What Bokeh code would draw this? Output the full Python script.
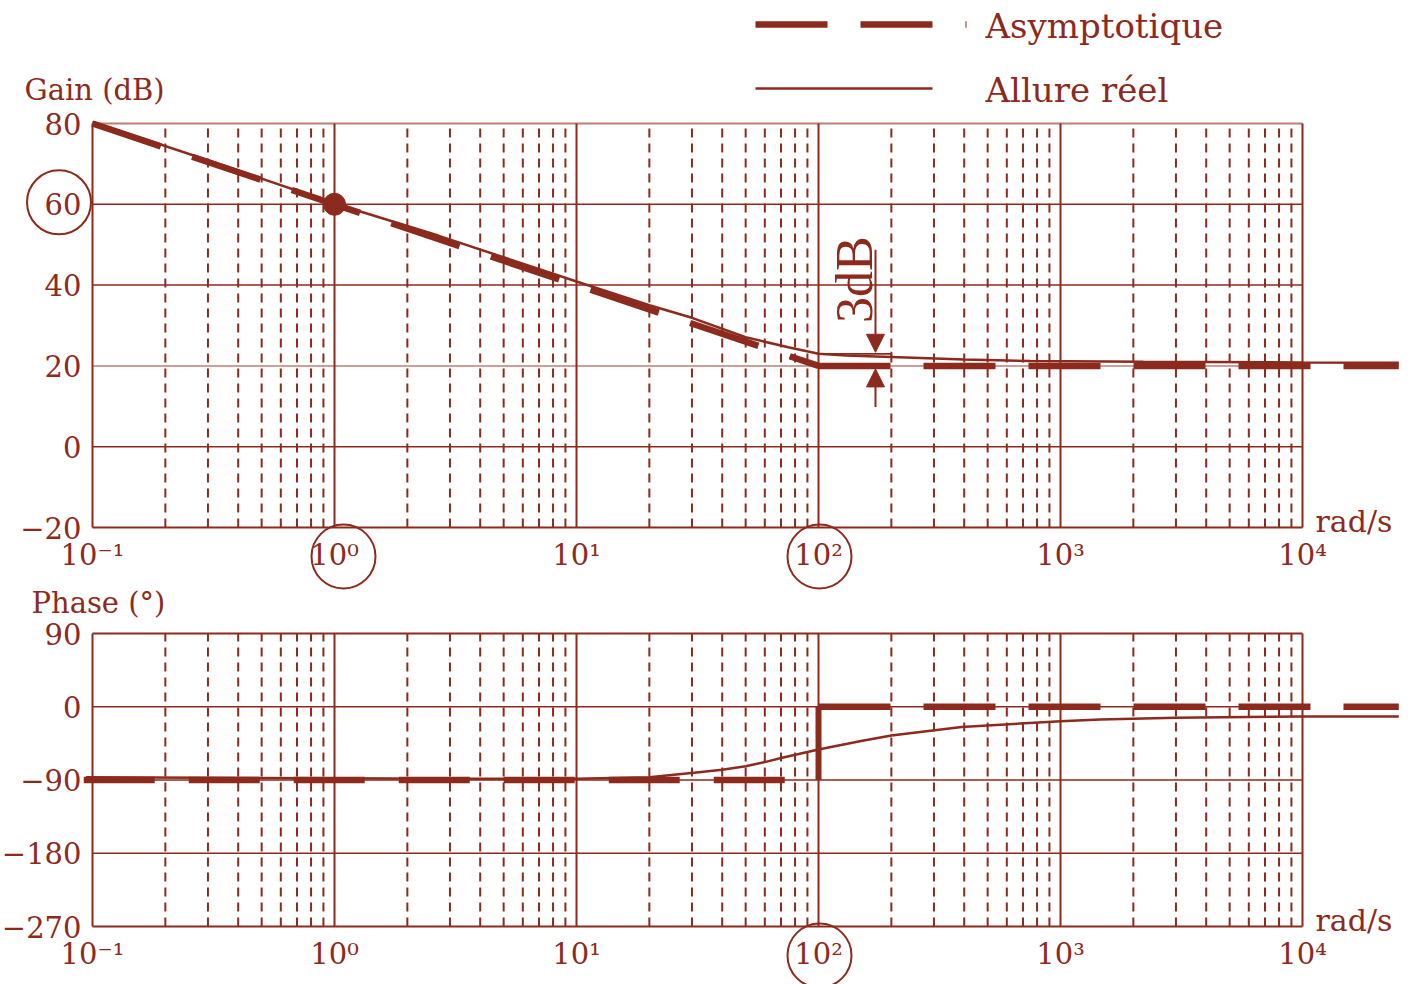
import numpy as np
from bokeh.plotting import figure
from bokeh.models import Range1d, Arrow, NormalHead
from bokeh.core.properties import value
from bokeh.embed import file_html
from bokeh.resources import INLINE

# ------------------------------------------------------------------ data
decades = [0.1, 1, 10, 100, 1000, 10000]
decade_labels = ["10⁻¹", "10⁰", "10¹", "10²", "10³", "10⁴"]
minor_mult = [2, 3, 4, 5, 6, 7, 8, 9]

gain_ticks = [-20, 0, 20, 40, 60, 80]
gain_tick_labels = ["−20", "0", "20", "40", "60", "80"]
phase_ticks = [-270, -180, -90, 0, 90]
phase_tick_labels = ["−270", "−180", "−90", "0", "90"]

asym_gain_w = [0.1, 100, 25000]
asym_gain_db = [80, 20, 20]
real_gain_w = [0.1, 0.3, 1, 2.7, 10, 20, 30, 50, 75, 100, 130, 200, 400, 750, 2200, 10000, 25000]
real_gain_db = [80.4, 70.9, 60.2, 52.2, 40.9, 35.0, 31.9, 27.1, 24.6, 23.0, 22.6, 22.2, 21.6, 21.2, 21.0, 20.85, 20.8]

asym_phase_w = [0.092, 100, 100, 25000]
asym_phase_deg = [-90, -90, 0, 0]
real_phase_w = [0.094, 0.3, 1, 3, 10, 20, 32, 40, 50, 60, 70, 100, 150, 200, 390, 1000, 1460, 3000, 10000, 25000]
real_phase_deg = [-86.5, -87.2, -88, -88.5, -88.5, -86.5, -80.4, -77.5, -73, -68, -63, -52.5, -42, -35.3, -25, -17.7, -15.6, -13.5, -12, -12]

marked_w, marked_db = 1, 60          # point (1 rad/s ; 60 dB)
break_w = 100                        # corner frequency
real_at_break_db = 23
asym_at_break_db = 20
arrow_w = 172                        # where the 3 dB arrows are drawn
ext_end_w = 200
circled_gain_ticks = [60]
circled_decades_gain = [1, 100]
circled_decades_phase = [100]
legend_labels = ["Asymptotique", "Allure réel"]

# ------------------------------------------------------------------ layout
C = "#8C2A1E"
FONT = value("DejaVu Serif")
PPD = 242.0                 # pixels per decade
W, H = 1413, 984
G_PPU = 404 / 100.0         # px per dB
P_PPU = 293 / 360.0         # px per degree
PH = "phase"


def ref_x(px):              # page pixel -> frequency
    return 10 ** (-1 + (px - 92) / PPD)


def ref_g(py):              # page pixel -> dB
    return 80 - (py - 123) / G_PPU


def ref_p(py):              # page pixel -> degrees
    return 90 - (py - 633) / P_PPU


def xs(w, dpx):
    return w * 10 ** (dpx / PPD)


p = figure(width=W, height=H, x_axis_type="log",
           x_range=Range1d(ref_x(0), ref_x(W)), y_range=Range1d(ref_g(H), ref_g(0)),
           x_axis_location=None, y_axis_location=None,
           toolbar_location=None, output_backend="svg", min_border=0)
p.extra_y_ranges = {PH: Range1d(ref_p(H), ref_p(0))}
p.outline_line_color = None
p.xgrid.visible = False
p.ygrid.visible = False
p.background_fill_color = "white"
p.border_fill_color = "white"


def draw_grid(ticks, light, rn):
    ymin, ymax = ticks[0], ticks[-1]
    minors = [m * d for d in decades[:-1] for m in minor_mult]
    p.segment(x0=minors, y0=[ymin] * len(minors), x1=minors, y1=[ymax] * len(minors),
              line_color=C, line_width=2, line_dash="9 6", y_range_name=rn)
    majors = decades[1:-1]
    p.segment(x0=majors, y0=[ymin] * len(majors), x1=majors, y1=[ymax] * len(majors),
              line_color=C, line_width=2, y_range_name=rn)
    for t in ticks[1:-1]:
        p.line([decades[0], decades[-1]], [t, t], line_color=C, y_range_name=rn,
               line_width=1.5, line_alpha=0.6 if t in light else 1.0)
    # frame
    p.line([decades[0], decades[0]], [ymin, ymax], line_color=C, line_width=2, y_range_name=rn)
    p.line([decades[-1], decades[-1]], [ymin, ymax], line_color=C, line_width=2, y_range_name=rn)
    p.line([decades[0], decades[-1]], [ymin, ymin], line_color=C, line_width=2, y_range_name=rn)
    p.line([decades[0], decades[-1]], [ymax, ymax], line_color=C, line_width=2, y_range_name=rn,
           line_alpha=0.6 if ymax in light else 1.0)


def tick_texts(ticks, labels, rn):
    p.text(x=[decades[0]] * len(ticks), y=ticks, text=labels, x_offset=-11,
           text_font=FONT, text_font_size="29px", text_color=C, y_range_name=rn,
           text_align="right", text_baseline="middle")
    p.text(x=decades, y=[ticks[0]] * len(decades), text=decade_labels, y_offset=27,
           text_font=FONT, text_font_size="29px", text_color=C, y_range_name=rn,
           text_align="center", text_baseline="middle")
    p.text(x=[decades[-1]], y=[ticks[0]], text=["rad/s"], x_offset=13, y_offset=-6,
           text_font=FONT, text_font_size="30px", text_color=C, y_range_name=rn,
           text_align="left", text_baseline="middle")


# ================================================================ gain
GN = "default"
draw_grid(gain_ticks, [20, 80], GN)
tick_texts(gain_ticks, gain_tick_labels, GN)

p.text(x=[decades[0]], y=[gain_ticks[-1]], text=["Gain (dB)"], x_offset=-68, y_offset=-34,
       text_font=FONT, text_font_size="29px", text_color=C,
       text_align="left", text_baseline="middle")

# circles around key labels
p.circle(x=[xs(decades[0], -33.5)] * len(circled_gain_ticks),
         y=[t + 2 / G_PPU for t in circled_gain_ticks],
         radius=32, radius_units="screen", fill_color=None, line_color=C, line_width=2)
p.circle(x=[xs(d, dx) for d, dx in zip(circled_decades_gain, [9, 1])],
         y=[gain_ticks[0] - 29 / G_PPU] * len(circled_decades_gain),
         radius=32, radius_units="screen", fill_color=None, line_color=C, line_width=2)

# curves
p.line(asym_gain_w[0:2], asym_gain_db[0:2], line_color=C, line_width=6.5, line_dash="72 33")
p.line(asym_gain_w[1:], asym_gain_db[1:], line_color=C, line_width=6.5, line_dash="72 33")
p.line(real_gain_w, real_gain_db, line_color=C, line_width=2.5)
p.circle(x=[marked_w], y=[marked_db], radius=11, radius_units="screen",
         fill_color=C, line_color=C)

# 3 dB annotation
p.line([break_w, ext_end_w], [real_at_break_db, real_at_break_db], line_color=C, line_width=1.8)
p.line([ext_end_w, ext_end_w], [real_at_break_db + 2 / G_PPU, real_at_break_db - 3 / G_PPU],
       line_color=C, line_width=1.8)
p.add_layout(Arrow(end=NormalHead(size=18, fill_color=C, line_color=C),
                   x_start=arrow_w, y_start=real_at_break_db + 104 / G_PPU,
                   x_end=arrow_w, y_end=real_at_break_db + 1.5 / G_PPU,
                   line_color=C, line_width=2))
p.add_layout(Arrow(end=NormalHead(size=18, fill_color=C, line_color=C),
                   x_start=arrow_w, y_start=asym_at_break_db - 41 / G_PPU,
                   x_end=arrow_w, y_end=asym_at_break_db - 3 / G_PPU,
                   line_color=C, line_width=2))
p.text(x=[xs(arrow_w, -21)], y=[asym_at_break_db + 43 / G_PPU], text=["3dB"], angle=np.pi / 2,
       text_font=value("Liberation Serif"), text_font_size="52px", text_color=C,
       text_align="left", text_baseline="middle")

# legend
p.line([ref_x(755), ref_x(966)], [ref_g(24), ref_g(24)], line_color=C, line_width=6.5,
       line_dash="72 33")
p.line([ref_x(755), ref_x(932)], [ref_g(88), ref_g(88)], line_color=C, line_width=2.5)
p.text(x=[ref_x(985)] * 2, y=[ref_g(25), ref_g(89)], text=legend_labels,
       text_font=FONT, text_font_size="34px", text_color=C,
       text_align="left", text_baseline="middle")

# ================================================================ phase
draw_grid(phase_ticks, [], PH)
tick_texts(phase_ticks, phase_tick_labels, PH)

p.text(x=[decades[0]], y=[phase_ticks[-1]], text=["Phase (°)"], x_offset=-61, y_offset=-31,
       text_font=FONT, text_font_size="29px", text_color=C, y_range_name=PH,
       text_align="left", text_baseline="middle")
p.circle(x=[xs(d, 1) for d in circled_decades_phase],
         y=[phase_ticks[0] - 29 / P_PPU] * len(circled_decades_phase),
         radius=32, radius_units="screen", fill_color=None, line_color=C, line_width=2,
         y_range_name=PH)

p.line(asym_phase_w[0:2], asym_phase_deg[0:2], line_color=C, line_width=6.5, line_dash="71 34",
       y_range_name=PH)
p.line(asym_phase_w[1:3], asym_phase_deg[1:3], line_color=C, line_width=6, y_range_name=PH)
p.line(asym_phase_w[2:], asym_phase_deg[2:], line_color=C, line_width=6.5, line_dash="72 33",
       y_range_name=PH)
p.line(real_phase_w, real_phase_deg, line_color=C, line_width=2.5, y_range_name=PH)

open("out.html", "w").write(file_html(p, INLINE))
